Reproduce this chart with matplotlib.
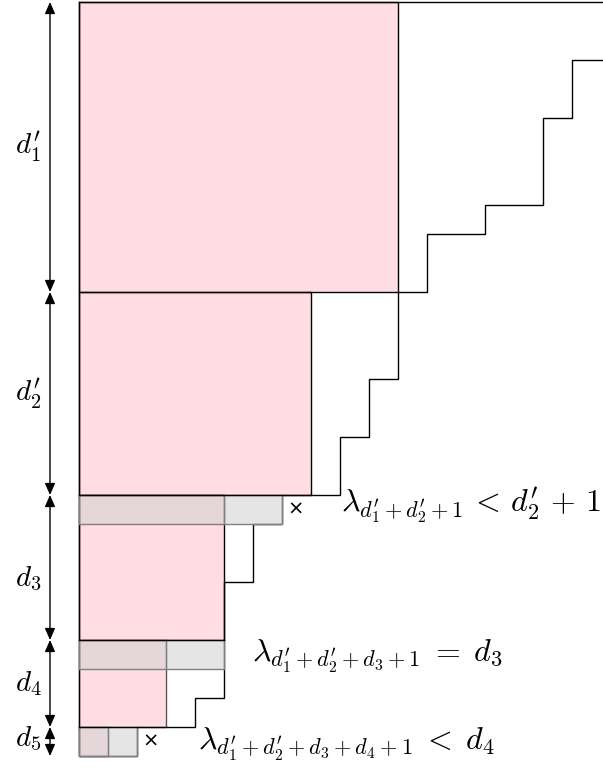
import matplotlib
matplotlib.use("Agg")
import matplotlib.pyplot as plt
from matplotlib.patches import Rectangle

plt.rcParams['mathtext.fontset'] = 'cm'

# longueurs des lignes de la partition (en cases), de haut en bas
row_lengths = [19, 19, 17, 17, 16, 16, 16, 14, 12, 12,
               11, 11, 11, 10, 10, 9, 9,
               7, 6, 6, 5, 5,
               5, 5, 4,
               2]
# blocs: nombre de lignes et largeur du rectangle rose
block_sizes = [10, 7, 5, 3, 1]
block_widths = [11, 8, 5, 3, 1]
block_labels = [r"$d_1^{\prime}$", r"$d_2^{\prime}$", r"$d_3$", r"$d_4$", r"$d_5$"]
label_rows = [5.0, 13.5, 19.9, 23.5, 25.4]
# lignes grisées (premiere ligne des blocs 3, 4, 5)
marked_blocks = [2, 3, 4]
cross_blocks = [2, 4]
notes = [r"$\lambda_{d_1^{\prime}+d_2^{\prime}+1}\,<\,d_2^{\prime}\,+\,1$",
         r"$\lambda_{d_1^{\prime}+d_2^{\prime}+d_3+1}\;=\;d_3$",
         r"$\lambda_{d_1^{\prime}+d_2^{\prime}+d_3+d_4+1}\;<\;d_4$"]
note_pos = [(9.03, 17.59), (5.97, 22.76), (4.1, 25.8)]

pink = '#ffdde3'
cell = 29.0

fig = plt.figure(figsize=(6.03, 7.72), dpi=100)
ax = fig.add_axes([0, 0, 1, 1])
ax.set_xlim(-79 / cell, 524 / cell)
ax.set_ylim(770 / cell, -2 / cell)
ax.axis('off')

starts = [sum(block_sizes[:i]) for i in range(len(block_sizes))]

# rectangles roses
for i, (s, n, w) in enumerate(zip(starts, block_sizes, block_widths)):
    ec = 'black' if i < 3 else '#555555'
    ax.add_patch(Rectangle((0, s), w, n, facecolor=pink, edgecolor='none', zorder=1))
    ax.add_patch(Rectangle((0, s), w, n, facecolor='none', edgecolor=ec, lw=1.0, zorder=3))

# contour en escalier
n_rows = len(row_lengths)
xs, ys = [0, row_lengths[0]], [0, 0]
for r in range(n_rows):
    xs += [row_lengths[r]]
    ys += [r + 1]
    if r + 1 < n_rows:
        xs += [row_lengths[r + 1]]
        ys += [r + 1]
xs += [0, 0]
ys += [n_rows, 0]
ax.plot(xs, ys, color='black', lw=1.0, zorder=3, solid_joinstyle='miter')

# lignes grisées
for b in marked_blocks:
    r = starts[b]
    L = row_lengths[r]
    ax.add_patch(Rectangle((0, r), L, 1, facecolor='#d2d2d2', alpha=0.56,
                           edgecolor='none', zorder=4))
    ax.plot([0, 0, L, L], [r, r + 1, r + 1, r], color='#808080', lw=1.0, zorder=5)
    ax.plot([block_widths[b]] * 2, [r, r + 1], color='#808080', lw=1.0, zorder=5)
    ax.plot([0, L], [r, r], color='black', lw=1.0, zorder=6)

# croix
for b in cross_blocks:
    r = starts[b]
    ax.text(row_lengths[r] + 0.48, r + 0.5, '×', fontsize=14, ha='center',
            va='center', family='DejaVu Sans', zorder=6)

# flèches et étiquettes
for s, n, lab, ly in zip(starts, block_sizes, block_labels, label_rows):
    ax.annotate('', xy=(-1.0, s), xytext=(-1.0, s + n),
                arrowprops=dict(arrowstyle='<|-|>,head_length=0.5,head_width=0.22',
                                color='black', lw=1.0, mutation_scale=14,
                                shrinkA=0, shrinkB=0))
    ax.text(-1.3, ly, lab, fontsize=21, ha='right', va='center')

for t, (x, y) in zip(notes, note_pos):
    ax.text(x, y, t, fontsize=23, ha='left', va='baseline')

fig.savefig('out.png', dpi=100)
